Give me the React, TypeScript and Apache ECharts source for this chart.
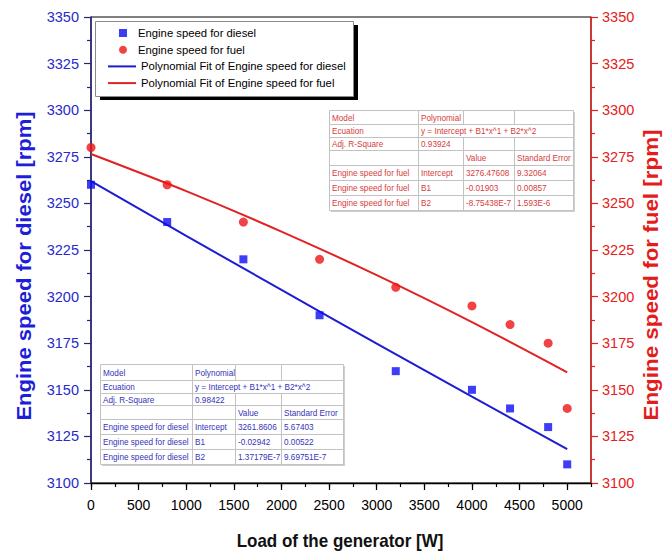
import React, { useEffect, useRef } from "react";
import * as echarts from "echarts";

// ---- data ----
const loadW = [0, 800, 1600, 2400, 3200, 4000, 4400, 4800, 5000];
const dieselRpm = [3260, 3240, 3220, 3190, 3160, 3150, 3140, 3130, 3110];
const fuelRpm = [3280, 3260, 3240, 3220, 3205, 3195, 3185, 3175, 3140];
const fitLoadW = [0, 1000, 2000, 3000, 4000, 5000];
const dieselFitRpm = [3261.9, 3232.6, 3203.6, 3174.8, 3146.3, 3118.2];
const fuelFitRpm = [3276.5, 3256.6, 3234.9, 3211.5, 3186.3, 3159.4];

const xMin = 0;
const xMax = 5250;
const xStep = 500;
const xMinorStep = 250;
const yMin = 3100;
const yMax = 3350;
const yStep = 25;

const seriesNames = [
  "Engine speed for diesel",
  "Engine speed for fuel",
  "Polynomial Fit of Engine speed for diesel",
  "Polynomial Fit of Engine speed for fuel",
];
const xTitle = "Load of the generator [W]";
const yLeftTitle = "Engine speed for diesel [rpm]";
const yRightTitle = "Engine speed for fuel [rpm]";

const fuelTableRows = [
  ["Model", "Polynomial", "", ""],
  ["Ecuation", "y = Intercept + B1*x^1 + B2*x^2"],
  ["Adj. R-Square", "0.93924", "", ""],
  ["", "", "Value", "Standard Error"],
  ["Engine speed for fuel", "Intercept", "3276.47608", "9.32064"],
  ["Engine speed for fuel", "B1", "-0.01903", "0.00857"],
  ["Engine speed for fuel", "B2", "-8.75438E-7", "1.593E-6"],
];
const dieselTableRows = [
  ["Model", "Polynomial", "", ""],
  ["Ecuation", "y = Intercept + B1*x^1 + B2*x^2"],
  ["Adj. R-Square", "0.98422", "", ""],
  ["", "", "Value", "Standard Error"],
  ["Engine speed for diesel", "Intercept", "3261.8606", "5.67403"],
  ["Engine speed for diesel", "B1", "-0.02942", "0.00522"],
  ["Engine speed for diesel", "B2", "1.37179E-7", "9.69751E-7"],
];

// ---- styling ----
const FONT = '"Liberation Sans", Arial, sans-serif';
const BLUE = "#0c0cf2";
const BLUE_LINE = "#1c1cd2";
const BLUE_LABEL = "#2a2acc";
const NAVY = "#24247a";
const RED = "#ee1414";
const RED_LINE = "#e22222";
const RED_LABEL = "#e42020";

const GRID = { left: 91, right: 78, top: 17, bottom: 71 };
const plain = (v: number) => String(v);

function tableElements(
  rows: string[][],
  left: number,
  top: number,
  colW: number[],
  rowH: number[],
  color: string
) {
  const els: any[] = [];
  const W = colW.reduce((a, b) => a + b, 0);
  const H = rowH.reduce((a, b) => a + b, 0);
  els.push({
    type: "rect",
    z: 20,
    shape: { x: left + 2, y: top + 2, width: W, height: H },
    style: { fill: "#cfcfcf" },
  });
  els.push({
    type: "rect",
    z: 21,
    shape: { x: left, y: top, width: W, height: H },
    style: { fill: "#ffffff" },
  });
  let y = top;
  rows.forEach((row, r) => {
    const h = rowH[r];
    const spans = row.length === 2 ? [colW[0], colW[1] + colW[2] + colW[3]] : colW;
    let x = left;
    row.forEach((cell, c) => {
      const w = spans[c];
      els.push({
        type: "rect",
        z: 22,
        shape: { x: x + 0.5, y: y + 0.5, width: w, height: h },
        style: { fill: "none", stroke: "#c2c2c2", lineWidth: 1 },
      });
      if (cell) {
        els.push({
          type: "text",
          z: 23,
          x: x + 3,
          y: y + h / 2 + 0.5,
          scaleY: 1.12,
          style: {
            text: cell,
            fill: color,
            font: `8.2px ${FONT}`,
            align: "left",
            verticalAlign: "middle",
            textAlign: "left",
            textVerticalAlign: "middle",
          },
        });
      }
      x += w;
    });
    y += h;
  });
  return els;
}

export default function App() {
  const ref = useRef<HTMLDivElement>(null);
  useEffect(() => {
    document.body.style.margin = "0";
    const chart = echarts.init(ref.current!, null, { renderer: "svg" });

    const graphics: any[] = [
      // legend frame + hard black shadow
      {
        type: "rect",
        z: 8,
        shape: { x: 100, y: 25, width: 258, height: 75 },
        style: { fill: "#000000" },
      },
      {
        type: "rect",
        z: 9,
        shape: { x: 95.5, y: 21.5, width: 258, height: 75 },
        style: { fill: "#ffffff", stroke: "#8a8a8a", lineWidth: 1 },
      },
      ...tableElements(fuelTableRows, 329, 110, [89, 45, 51, 59], [14, 13, 13, 15, 15, 15, 15], "#d63c3c"),
      ...tableElements(dieselTableRows, 100, 364, [92, 43, 46, 62], [16, 13, 12, 14, 15, 15, 15], "#3434b8"),
      {
        type: "text",
        z: 30,
        x: 24,
        y: 266,
        rotation: Math.PI / 2,
        scaleX: 1.1,
        style: {
          text: yLeftTitle,
          fill: "#1e1ed8",
          font: `bold 20px ${FONT}`,
          align: "center",
          verticalAlign: "middle",
          textAlign: "center",
          textVerticalAlign: "middle",
        },
      },
      {
        type: "text",
        z: 30,
        x: 651,
        y: 275,
        rotation: Math.PI / 2,
        scaleX: 1.12,
        style: {
          text: yRightTitle,
          fill: "#e41c1c",
          font: `bold 20px ${FONT}`,
          align: "center",
          verticalAlign: "middle",
          textAlign: "center",
          textVerticalAlign: "middle",
        },
      },
      {
        type: "text",
        z: 30,
        x: 340,
        y: 541,
        scaleY: 1.1,
        style: {
          text: xTitle,
          fill: "#111111",
          font: `bold 17px ${FONT}`,
          align: "center",
          verticalAlign: "middle",
          textAlign: "center",
          textVerticalAlign: "middle",
        },
      },
    ];

    const legendText = { fontSize: 11.3, lineHeight: 12, color: "#000", fontFamily: FONT };

    const option: any = {
      animation: false,
      backgroundColor: "#ffffff",
      grid: [
        { ...GRID, show: true, borderColor: "#000", borderWidth: 1, backgroundColor: "transparent" },
        { ...GRID, show: false },
      ],
      legend: [
        {
          orient: "vertical",
          left: 119,
          top: 27,
          data: [seriesNames[0], seriesNames[1]],
          itemWidth: 8,
          itemHeight: 8,
          itemGap: 4.7,
          padding: 0,
          textStyle: { ...legendText, padding: [0, 0, 0, 6] },
          z: 10,
        },
        {
          orient: "vertical",
          left: 107,
          top: 60.4,
          data: [
            { name: seriesNames[2], itemStyle: { color: "rgba(0,0,0,0)", opacity: 0, borderWidth: 0 } },
            { name: seriesNames[3], itemStyle: { color: "rgba(0,0,0,0)", opacity: 0, borderWidth: 0 } },
          ],
          itemWidth: 28,
          itemHeight: 8,
          itemGap: 4.7,
          padding: 0,
          textStyle: legendText,
          z: 10,
        },
      ],
      xAxis: [
        {
          type: "value",
          gridIndex: 0,
          position: "bottom",
          min: xMin,
          max: xMax,
          interval: xStep,
          axisLine: { show: true, onZero: false, lineStyle: { color: "#000", width: 1.3 } },
          axisTick: { show: true, length: 7, lineStyle: { color: "#000", width: 1.2 } },
          axisLabel: { margin: 15, fontSize: 14, color: "#000", fontFamily: FONT, showMaxLabel: false, formatter: plain },
          splitLine: { show: false },
        },
        {
          type: "value",
          gridIndex: 1,
          position: "bottom",
          min: xMin,
          max: xMax,
          interval: xMinorStep,
          axisLine: { show: false },
          axisTick: { show: true, length: 4, lineStyle: { color: "#000", width: 1.2 } },
          axisLabel: { show: false },
          splitLine: { show: false },
        },
      ],
      yAxis: [
        {
          type: "value",
          gridIndex: 0,
          position: "left",
          min: yMin,
          max: yMax,
          interval: yStep,
          axisLine: { show: true, onZero: false, lineStyle: { color: NAVY, width: 1.5 } },
          axisTick: { show: true, length: 7, lineStyle: { color: NAVY, width: 1.2 } },
          minorTick: { show: true, splitNumber: 2, length: 4, lineStyle: { color: NAVY, width: 1.2 } },
          axisLabel: { margin: 12, fontSize: 14.5, color: BLUE_LABEL, fontFamily: FONT, formatter: plain },
          splitLine: { show: false },
          minorSplitLine: { show: false },
        },
        {
          type: "value",
          gridIndex: 0,
          position: "right",
          min: yMin,
          max: yMax,
          interval: yStep,
          axisLine: { show: true, onZero: false, lineStyle: { color: RED_LABEL, width: 1.5 } },
          axisTick: { show: true, length: 7, lineStyle: { color: RED_LABEL, width: 1.2 } },
          minorTick: { show: true, splitNumber: 2, length: 4, lineStyle: { color: RED_LABEL, width: 1.2 } },
          axisLabel: { margin: 11, fontSize: 14.5, color: RED_LABEL, fontFamily: FONT, formatter: plain },
          splitLine: { show: false },
          minorSplitLine: { show: false },
        },
        {
          type: "value",
          gridIndex: 1,
          show: false,
          min: 0,
          max: 1,
        },
      ],
      series: [
        {
          name: seriesNames[0],
          type: "scatter",
          xAxisIndex: 0,
          yAxisIndex: 0,
          symbol: "rect",
          symbolSize: 8,
          itemStyle: { color: BLUE },
          z: 5,
          data: loadW.map((x, i) => [x, dieselRpm[i]]),
        },
        {
          name: seriesNames[1],
          type: "scatter",
          xAxisIndex: 0,
          yAxisIndex: 1,
          symbol: "circle",
          symbolSize: 9,
          itemStyle: { color: RED },
          z: 5,
          data: loadW.map((x, i) => [x, fuelRpm[i]]),
        },
        {
          name: seriesNames[2],
          type: "line",
          xAxisIndex: 0,
          yAxisIndex: 0,
          symbol: "none",
          smooth: 0.3,
          lineStyle: { color: BLUE_LINE, width: 2 },
          itemStyle: { color: BLUE_LINE },
          z: 3,
          data: fitLoadW.map((x, i) => [x, dieselFitRpm[i]]),
        },
        {
          name: seriesNames[3],
          type: "line",
          xAxisIndex: 0,
          yAxisIndex: 1,
          symbol: "none",
          smooth: 0.3,
          lineStyle: { color: RED_LINE, width: 2 },
          itemStyle: { color: RED_LINE },
          z: 3,
          data: fitLoadW.map((x, i) => [x, fuelFitRpm[i]]),
        },
      ],
      graphic: { elements: graphics },
    };

    chart.setOption(option);
    return () => chart.dispose();
  }, []);
  return <div ref={ref} style={{ width: 669, height: 554 }} />;
}
